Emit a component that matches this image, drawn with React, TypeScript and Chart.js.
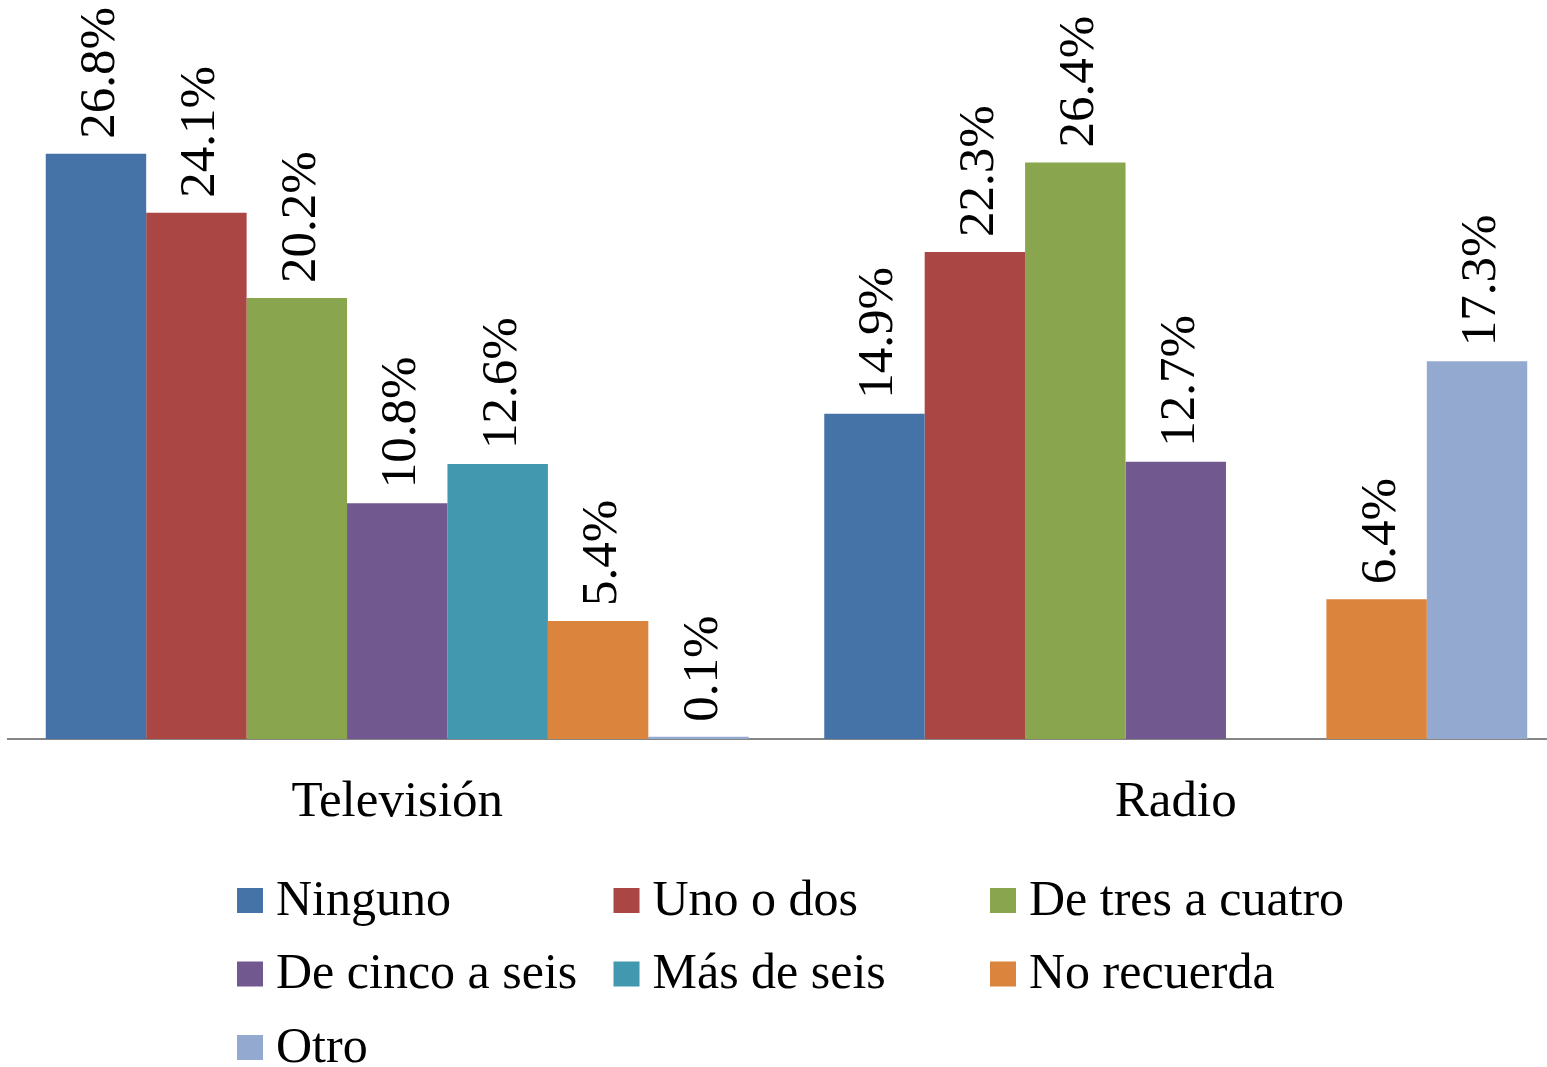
import React, { useEffect, useRef } from "react";
import { Chart, registerables } from "chart.js";

Chart.register(...registerables);

const categories = ["Televisión", "Radio"];
const seriesNames = [
  "Ninguno",
  "Uno o dos",
  "De tres a cuatro",
  "De cinco a seis",
  "Más de seis",
  "No recuerda",
  "Otro",
];
const ninguno = [26.8, 14.9];
const unoODos = [24.1, 22.3];
const deTresACuatro = [20.2, 26.4];
const deCincoASeis = [10.8, 12.7];
const masDeSeis = [12.6, null];
const noRecuerda = [5.4, 6.4];
const otro = [0.1, 17.3];
const seriesValues = [ninguno, unoODos, deTresACuatro, deCincoASeis, masDeSeis, noRecuerda, otro];
const colors = ["#4572A7", "#AA4643", "#89A54E", "#71588F", "#4198AF", "#DB843D", "#93A9CF"];

const FONT = '"Liberation Serif", "Times New Roman", serif';

const valueLabels = {
  id: "valueLabels",
  afterDatasetsDraw(chart: any) {
    const ctx = chart.ctx;
    chart.data.datasets.forEach((ds: any, i: number) => {
      const meta = chart.getDatasetMeta(i);
      meta.data.forEach((el: any, j: number) => {
        const v = ds.data[j];
        if (v === null || v === undefined) return;
        ctx.save();
        ctx.translate(el.x + 18, el.y - 15);
        ctx.rotate(-Math.PI / 2);
        ctx.font = `51px ${FONT}`;
        ctx.fillStyle = "#000";
        ctx.textAlign = "left";
        ctx.textBaseline = "alphabetic";
        ctx.fillText(v.toFixed(1) + "%", 0, 0);
        ctx.restore();
      });
    });
  },
};

const gridLegend = {
  id: "gridLegend",
  afterDraw(chart: any) {
    const ctx = chart.ctx;
    ctx.save();
    ctx.font = `50px ${FONT}`;
    ctx.textAlign = "left";
    ctx.textBaseline = "alphabetic";
    chart.data.datasets.forEach((ds: any, i: number) => {
      const col = i % 3;
      const row = Math.floor(i / 3);
      const x = 237 + col * 376.5;
      const cy = 900.5 + row * 73.5;
      ctx.fillStyle = ds.backgroundColor;
      ctx.fillRect(x, cy - 12.5, 26, 25);
      ctx.fillStyle = "#000";
      ctx.fillText(ds.label, x + 39, cy + 14);
    });
    ctx.restore();
  },
};

export default function App() {
  const ref = useRef<HTMLCanvasElement>(null);
  useEffect(() => {
    document.body.style.margin = "0";
    const chart = new Chart(ref.current!, {
      type: "bar",
      data: {
        labels: categories,
        datasets: seriesNames.map((name, i) => ({
          label: name,
          data: seriesValues[i],
          backgroundColor: colors[i],
          borderWidth: 0,
          categoryPercentage: 0.903,
          barPercentage: 1,
        })),
      },
      options: {
        responsive: false,
        animation: false,
        layout: { padding: { left: 8, right: 35, top: 84, bottom: 207 } },
        plugins: { legend: { display: false }, tooltip: { enabled: false }, title: { display: false } },
        scales: {
          x: {
            grid: { display: false, drawTicks: false },
            border: { display: true, color: "#868686", width: 2 },
            ticks: { color: "#000", font: { family: FONT, size: 51 }, padding: 33 },
            afterFit: (scale: any) => {
              scale.height = 121;
            },
          },
          y: {
            display: false,
            min: 0,
            max: 30,
          },
        },
      },
      plugins: [valueLabels, gridLegend],
    });
    return () => chart.destroy();
  }, []);
  return (
    <div style={{ position: "fixed", left: 0, top: 0, width: 1547, height: 1067, overflow: "hidden", background: "#fff" }}>
      <canvas ref={ref} width={1600} height={1067} style={{ display: "block" }} />
    </div>
  );
}
